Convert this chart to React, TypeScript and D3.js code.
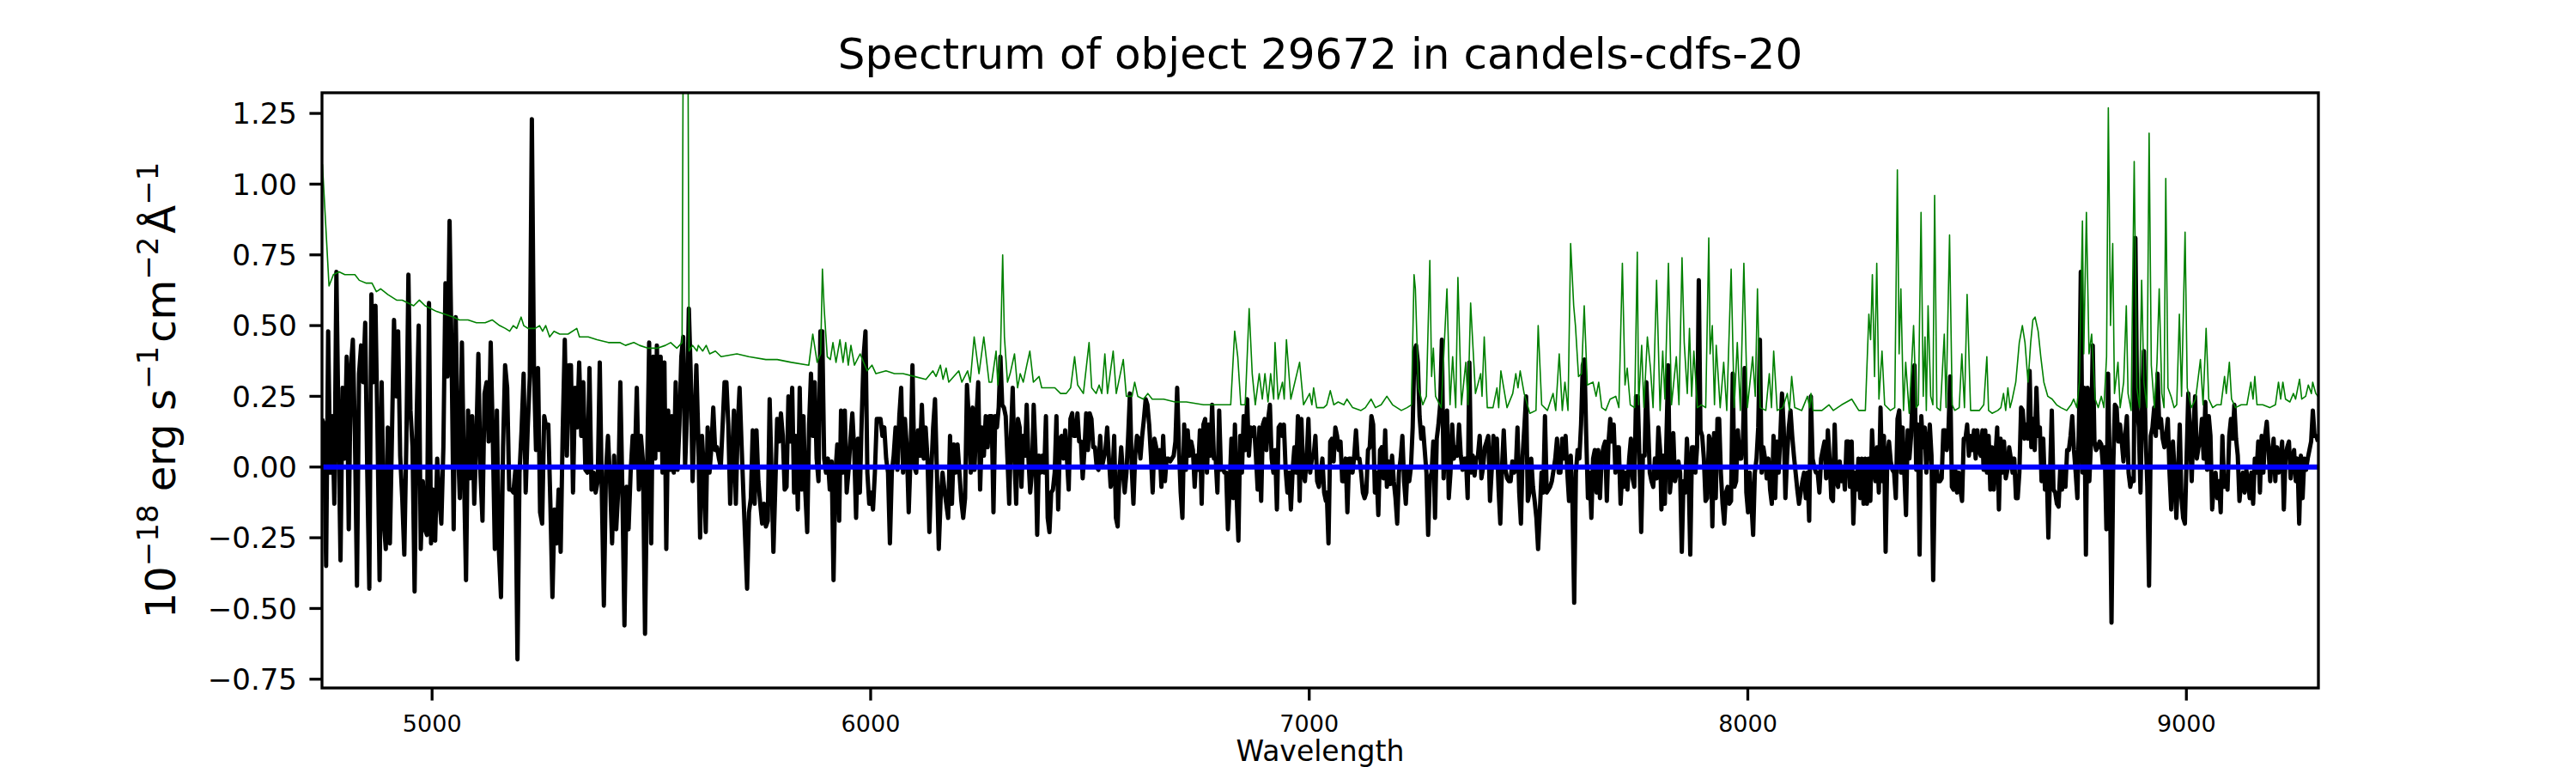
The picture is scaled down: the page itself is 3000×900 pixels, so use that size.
import React from "react";
import * as d3 from "d3";

// flux (black) in six stretches of wavelength
const segmentStart = [4749, 5512.6, 6276, 7040, 7803, 8537.5];
const segmentEnd = [5509, 6271, 7038, 7800, 8535, 9300];

const flux4750 = [0.17,0.15,-0.35,0.48,-0.02,0.18,-0.13,0.69,0.15,-0.33,0.28,0.03,0.39,-0.22,0.35,0.45,0.11,-0.42,0.33,0.43,0.30,0.51,-0.02,-0.43,0.61,0.30,0.57,0.11,-0.40,0.30,-0.19,-0.29,0.14,-0.27,0.11,0.52,0.25,0.48,0.04,-0.11,-0.31,0.09,0.68,0.20,0.07,-0.44,0.17,0.50,-0.29,-0.05,-0.22,-0.24,0.58,-0.27,-0.08,-0.26,0.03,-0.11,-0.20,0.07,0.65,0.32,0.87,0.39,-0.22,0.53,0.09,-0.11,0.44,-0.02,-0.40,0.20,-0.04,0.18,-0.13,0.09,0.40,-0.02,-0.19,0.26,0.30,0.09,0.44,0.11,-0.29,0.20,-0.30,-0.46,0.07,0.36,0.28,-0.08,-0.08,-0.09,-0.01,-0.68,-0.02,0.13,0.33,-0.09,0.14,0.32,1.23,0.36,0.06,0.35,-0.16,-0.20,0.18,0.14,0.15,-0.13,-0.46,-0.15,-0.27,-0.08,-0.30,0.13,0.45,0.04,0.36,0.36,-0.09,0.28,0.14,0.37,0.11,0.30,-0.01,-0.02,0.35,-0.08,-0.02,-0.09,-0.05,0.37,-0.09,-0.49,-0.02,0.11,-0.05,-0.27,0.04,-0.22,-0.08,0.30,-0.09,-0.56,-0.07,-0.22,-0.02,0.11,0.00,0.28,-0.08,0.11,0.02,-0.59,-0.02,0.44,-0.27,0.39,0.03];
const flux5510 = [0.43,0.06,0.39,-0.02,0.37,-0.29,0.20,-0.01,0.18,-0.02,0.30,-0.01,0.15,0.39,0.46,0.00,0.18,0.56,0.33,-0.05,0.15,0.36,0.11,-0.25,0.11,-0.02,-0.23,0.14,-0.02,0.07,0.21,0.06,0.07,0.03,0.00,0.15,0.30,0.30,0.15,-0.13,0.03,0.20,-0.13,0.14,0.28,0.09,-0.09,-0.26,-0.43,-0.16,-0.11,0.13,-0.13,0.13,-0.05,-0.13,-0.20,-0.13,-0.21,-0.19,0.24,-0.02,-0.30,-0.07,0.17,0.09,0.19,0.11,-0.08,-0.07,0.25,0.09,0.28,-0.09,0.11,-0.15,0.28,-0.08,0.18,-0.09,-0.23,0.15,0.33,0.11,0.30,0.03,-0.05,0.48,0.48,0.03,-0.02,0.03,-0.08,0.02,-0.40,-0.02,0.08,-0.19,0.20,-0.02,0.20,-0.09,-0.01,0.10,0.19,0.06,-0.18,0.10,-0.09,0.17,0.39,0.48,-0.02,-0.13,-0.09,-0.15,-0.02,0.17,0.17,0.17,0.11,0.14,0.03,-0.02,-0.27,-0.02,0.04,0.14,-0.01,0.18,0.28,-0.02,0.17,0.07,-0.16,0.04,0.36,0.00,-0.02,0.13,0.04,0.22,0.03,0.14,0.03,-0.23,-0.02,0.14,0.24,-0.02,-0.29,-0.11,-0.02,-0.08,-0.13,-0.18,0.11,-0.13,0.08,-0.02,0.08,-0.02,-0.12,-0.18,-0.11,0.29,0.17,-0.02,0.21,-0.01,0.17,0.30,-0.08,0.14,0.04,0.18,0.07,0.18];
const flux6280 = [0.18,-0.16,0.18,0.14,0.21,0.39,0.22,0.21,0.18,0.03,-0.13,0.11,0.28,0.03,-0.13,0.17,0.14,-0.07,0.11,0.04,0.22,0.03,-0.09,-0.02,0.22,0.06,-0.24,0.04,-0.02,0.04,-0.02,0.18,-0.18,-0.23,-0.09,-0.08,-0.02,0.18,-0.15,0.10,0.11,0.03,0.13,0.03,-0.08,0.17,0.19,0.11,0.11,0.19,0.09,0.09,-0.04,0.06,0.19,0.06,0.19,0.17,0.07,0.07,0.00,-0.01,0.11,0.00,0.03,0.06,0.14,0.03,-0.07,-0.04,0.11,-0.18,-0.21,-0.02,0.07,-0.02,-0.09,-0.02,0.11,0.26,0.00,-0.13,0.04,0.11,0.10,0.03,0.11,0.17,0.24,0.22,0.15,0.04,-0.09,0.10,0.07,0.00,0.06,-0.07,0.11,-0.05,0.03,0.03,0.02,0.03,0.04,0.09,0.28,0.07,-0.09,-0.18,0.15,-0.01,0.13,0.04,0.09,0.06,-0.07,0.04,-0.01,0.13,-0.13,0.15,0.17,-0.02,0.15,0.04,0.22,0.03,0.03,-0.09,0.20,-0.01,0.00,-0.02,-0.02,-0.22,-0.07,0.10,-0.11,0.15,-0.11,-0.26,0.11,-0.02,0.18,0.06,0.24,0.04,0.14,0.11,0.14,0.04,-0.08,0.14,-0.12,0.15,0.17,0.06,0.17,0.22,0.03,-0.02,0.06,-0.15,0.14,0.15,0.11,0.15,-0.01,-0.09,-0.02,-0.15,-0.01,0.07,-0.02,0.18,-0.12,0.17,-0.02,-0.05,0.03,0.17,-0.02,0.03,0.04,0.11,-0.05,-0.07,-0.02,0.03,-0.09,-0.12];
const flux7040 = [-0.09,-0.27,0.09,0.10,0.02,0.14,0.11,0.06,0.09,-0.05,-0.05,0.03,-0.16,0.03,0.03,-0.02,0.04,0.13,0.03,0.03,-0.02,-0.09,-0.11,-0.09,0.06,0.07,0.18,0.15,-0.09,-0.02,-0.17,0.06,0.07,-0.04,0.13,-0.07,0.02,-0.06,0.04,-0.05,-0.11,-0.20,-0.02,0.03,0.11,-0.05,-0.13,0.00,-0.05,0.00,0.14,0.41,0.43,0.37,0.18,0.10,0.14,0.06,-0.02,-0.24,-0.04,-0.02,0.09,-0.18,0.10,0.15,0.22,0.45,-0.04,0.11,0.20,-0.11,-0.02,0.15,0.03,0.07,0.04,0.15,0.04,-0.01,0.03,0.03,-0.11,0.37,-0.02,0.04,-0.03,0.03,0.04,0.11,-0.04,0.00,0.07,0.09,0.11,-0.12,-0.01,0.11,0.00,0.10,-0.08,-0.20,0.00,0.13,-0.01,-0.04,-0.05,-0.05,0.02,-0.02,-0.01,0.14,-0.09,-0.20,0.04,0.14,0.25,-0.12,-0.09,0.03,-0.07,-0.12,-0.18,-0.29,-0.16,-0.02,-0.09,0.18,-0.09,-0.08,-0.07,-0.05,-0.01,0.03,0.10,-0.02,-0.02,0.10,0.03,0.11,-0.02,-0.12,0.04,-0.13,-0.48,-0.02,0.06,0.03,0.15,0.36,0.38,0.11,-0.11,-0.02,-0.18,0.03,0.06,-0.09,0.06,-0.11,0.03,0.07,0.09,-0.12,0.09,0.17,0.09,0.15,-0.02,0.07,0.07,-0.13,-0.01,-0.07,-0.02,-0.08,0.03,0.10,-0.04,-0.07,0.25,0.25,0.03,-0.23,0.04,0.04,0.30,0.15,-0.02,-0.05,-0.07,0.03,-0.04,0.14,0.06];
const flux7800 = [-0.15,0.04,-0.13,0.11,0.36,-0.09,-0.02,0.12,-0.05,-0.02,0.02,-0.02,-0.30,-0.05,-0.09,0.10,-0.02,-0.31,0.07,0.07,-0.02,0.07,0.66,0.13,0.11,0.03,-0.12,-0.11,0.11,0.09,-0.21,0.12,-0.11,0.17,0.17,-0.02,-0.13,-0.20,-0.09,-0.07,-0.13,-0.12,0.33,-0.07,-0.05,0.13,0.03,0.03,0.10,0.35,-0.09,-0.16,-0.02,-0.13,-0.24,-0.02,0.03,0.14,0.45,-0.02,0.07,0.03,-0.04,0.03,-0.08,-0.13,0.11,-0.11,0.09,-0.02,0.11,0.26,0.14,-0.11,0.04,0.14,0.20,0.11,0.04,-0.02,-0.08,-0.13,-0.09,-0.05,-0.02,-0.11,-0.02,-0.19,0.25,0.03,0.00,-0.02,-0.02,-0.09,0.03,0.06,0.09,-0.04,0.13,0.03,-0.11,-0.12,0.15,-0.05,-0.07,0.02,-0.05,0.00,-0.08,0.09,0.09,-0.07,0.09,-0.20,-0.02,-0.08,0.03,-0.11,0.03,-0.13,0.03,-0.13,0.03,-0.12,0.13,0.00,-0.05,0.07,-0.09,0.21,-0.05,0.11,-0.30,0.04,0.09,0.02,-0.01,-0.02,-0.11,0.17,0.20,-0.02,0.14,-0.02,-0.17,0.13,0.03,0.11,0.29,0.36,-0.01,0.15,-0.31,0.18,0.07,0.14,-0.02,0.07,0.15,0.04,-0.40,-0.02,0.00,-0.05,-0.05,-0.04,0.13,0.13,0.06,0.13,0.32,-0.07,-0.08,-0.01,-0.09,-0.02,-0.08,-0.12,0.10,0.10,0.15,0.04,0.11,0.06,0.13,0.03,0.13,0.06,0.04,0.13];
const flux8540 = [-0.01,0.13,-0.02,0.11,-0.08,0.07,-0.08,0.04,0.14,-0.15,0.10,-0.02,0.09,-0.04,-0.01,0.07,0.03,-0.02,0.03,-0.11,-0.11,-0.02,0.21,0.20,0.10,0.15,0.10,0.34,0.07,0.17,0.06,0.28,0.11,0.14,-0.05,0.10,-0.08,0.00,-0.25,-0.02,0.20,-0.08,-0.09,-0.13,-0.14,0.00,-0.08,0.00,-0.07,0.06,0.06,0.11,0.18,0.06,-0.02,-0.11,0.18,0.69,-0.02,0.28,-0.31,0.28,-0.05,0.09,0.43,0.09,0.06,0.07,0.09,0.08,0.00,0.07,-0.22,0.33,-0.02,-0.55,0.00,0.22,0.21,0.09,0.15,0.09,0.02,0.11,0.18,-0.02,-0.07,-0.04,-0.05,0.81,0.22,0.14,-0.09,0.25,0.41,0.11,-0.07,-0.42,0.11,0.14,0.21,0.11,0.33,0.14,0.17,0.10,0.07,0.11,0.17,-0.02,-0.15,0.09,-0.02,-0.18,-0.02,0.15,-0.11,-0.18,-0.20,0.03,0.26,0.10,-0.05,0.14,0.25,0.03,0.07,0.09,0.17,0.03,0.23,-0.01,0.18,0.11,-0.15,-0.05,-0.02,-0.11,-0.05,-0.16,0.11,-0.07,-0.04,-0.08,0.11,0.17,0.10,0.22,0.10,0.04,-0.12,-0.05,-0.02,-0.09,-0.01,-0.05,-0.11,-0.02,-0.13,0.03,-0.02,0.09,-0.09,0.11,-0.02,0.11,0.16,0.07,-0.05,0.04,0.10,-0.05,0.07,-0.02,0.03,0.09,-0.15,0.04,0.07,0.09,-0.04,0.03,0.06,-0.05,0.03,-0.20,0.04,-0.11,0.03,-0.01,0.03,0.06,0.09,0.20,0.11,0.11,0.09];
const fluxSegments = [flux4750, flux5510, flux6280, flux7040, flux7800, flux8540];

// error spectrum (green) as [wavelength, value]
const error4750 = [[4750,1.07],[4765,0.64],[4775,0.68],[4788,0.69],[4801,0.68],[4814,0.68],[4824,0.68],[4834,0.66],[4850,0.65],[4863,0.65],[4873,0.62],[4883,0.63],[4899,0.61],[4919,0.59],[4932,0.59],[4945,0.58],[4958,0.57],[4971,0.59],[4984,0.57],[4997,0.56],[5010,0.55],[5030,0.54],[5049,0.53],[5062,0.52],[5082,0.52],[5101,0.51],[5121,0.51],[5137,0.52],[5154,0.50],[5167,0.49],[5177,0.48],[5185,0.50],[5193,0.49],[5203,0.53],[5209,0.50],[5219,0.49],[5235,0.49],[5245,0.50],[5252,0.48],[5259,0.50],[5268,0.46],[5278,0.48],[5291,0.47],[5310,0.47],[5330,0.49],[5336,0.46],[5356,0.46],[5376,0.45],[5402,0.44],[5428,0.44],[5441,0.43],[5460,0.44],[5473,0.43],[5493,0.42]];
const error5510 = [[5513,0.42],[5532,0.43],[5544,0.44],[5558,0.42],[5570,0.44],[5575,2.5],[5581,2.5],[5586,0.41],[5594,0.43],[5604,0.41],[5607,0.43],[5617,0.41],[5625,0.43],[5633,0.40],[5646,0.41],[5659,0.39],[5695,0.40],[5722,0.39],[5761,0.38],[5787,0.38],[5819,0.37],[5859,0.36],[5868,0.47],[5878,0.37],[5886,0.40],[5890,0.70],[5894,0.56],[5901,0.39],[5908,0.38],[5914,0.44],[5921,0.37],[5930,0.45],[5937,0.37],[5943,0.44],[5949,0.36],[5955,0.43],[5963,0.36],[5976,0.40],[5992,0.34],[6003,0.36],[6012,0.33],[6035,0.34],[6054,0.33],[6074,0.33],[6100,0.32],[6126,0.31],[6142,0.34],[6149,0.32],[6159,0.36],[6165,0.31],[6172,0.35],[6178,0.30],[6201,0.34],[6208,0.30],[6221,0.34],[6227,0.30],[6236,0.46],[6247,0.33],[6258,0.46],[6270,0.30]];
const error6280 = [[6276,0.30],[6286,0.41],[6290,0.29],[6296,0.40],[6301,0.75],[6305,0.46],[6312,0.30],[6318,0.33],[6328,0.40],[6335,0.28],[6341,0.33],[6348,0.30],[6356,0.36],[6363,0.41],[6371,0.30],[6384,0.32],[6390,0.28],[6407,0.28],[6420,0.28],[6433,0.26],[6446,0.26],[6456,0.28],[6465,0.39],[6472,0.29],[6485,0.26],[6498,0.44],[6504,0.28],[6514,0.26],[6521,0.29],[6527,0.26],[6534,0.40],[6540,0.26],[6553,0.41],[6560,0.26],[6576,0.38],[6583,0.25],[6596,0.25],[6602,0.30],[6609,0.25],[6622,0.24],[6632,0.26],[6642,0.24],[6668,0.24],[6694,0.23],[6720,0.23],[6759,0.22],[6798,0.22],[6821,0.22],[6830,0.48],[6837,0.39],[6844,0.22],[6854,0.22],[6863,0.56],[6870,0.33],[6877,0.22],[6886,0.33],[6893,0.24],[6899,0.33],[6906,0.23],[6912,0.33],[6919,0.24],[6922,0.44],[6929,0.24],[6939,0.30],[6943,0.24],[6948,0.45],[6958,0.24],[6978,0.37],[6987,0.22],[7001,0.26],[7006,0.22],[7010,0.28],[7017,0.21],[7033,0.21]];
const error7040 = [[7040,0.22],[7048,0.27],[7056,0.22],[7066,0.23],[7079,0.22],[7086,0.24],[7099,0.21],[7118,0.20],[7128,0.21],[7141,0.24],[7151,0.21],[7164,0.22],[7177,0.25],[7190,0.22],[7210,0.20],[7223,0.21],[7233,0.22],[7239,0.68],[7242,0.63],[7249,0.28],[7259,0.22],[7267,0.25],[7275,0.73],[7279,0.32],[7283,0.42],[7288,0.25],[7301,0.21],[7314,0.63],[7321,0.22],[7327,0.39],[7334,0.21],[7339,0.67],[7347,0.22],[7357,0.37],[7362,0.22],[7368,0.58],[7379,0.26],[7391,0.33],[7394,0.25],[7399,0.46],[7406,0.21],[7419,0.21],[7428,0.28],[7432,0.21],[7437,0.34],[7451,0.21],[7464,0.26],[7471,0.33],[7476,0.28],[7481,0.34],[7490,0.26],[7503,0.19],[7517,0.20],[7522,0.50],[7530,0.22],[7543,0.20],[7556,0.26],[7562,0.20],[7570,0.40],[7577,0.20],[7583,0.30],[7590,0.20],[7596,0.79],[7603,0.57],[7607,0.50],[7614,0.32],[7621,0.33],[7627,0.57],[7634,0.29],[7647,0.30],[7654,0.25],[7660,0.30],[7667,0.21],[7676,0.20],[7686,0.24],[7699,0.25],[7706,0.21],[7714,0.72],[7720,0.29],[7725,0.35],[7732,0.22],[7742,0.21],[7748,0.76],[7751,0.22],[7758,0.43],[7763,0.21],[7771,0.46],[7778,0.35],[7784,0.21],[7792,0.66],[7800,0.20]];
const error7800 = [[7806,0.41],[7811,0.24],[7819,0.72],[7826,0.22],[7837,0.39],[7843,0.22],[7850,0.74],[7855,0.44],[7862,0.26],[7867,0.49],[7872,0.25],[7877,0.41],[7885,0.21],[7894,0.22],[7904,0.21],[7911,0.81],[7914,0.40],[7919,0.50],[7924,0.22],[7928,0.43],[7937,0.21],[7945,0.37],[7952,0.20],[7962,0.70],[7969,0.21],[7976,0.44],[7983,0.20],[7991,0.72],[7999,0.21],[8011,0.39],[8017,0.25],[8022,0.63],[8028,0.21],[8041,0.20],[8049,0.33],[8054,0.21],[8059,0.41],[8067,0.20],[8080,0.21],[8090,0.26],[8095,0.20],[8100,0.32],[8107,0.21],[8123,0.20],[8136,0.25],[8141,0.21],[8144,0.26],[8149,0.20],[8169,0.20],[8185,0.22],[8195,0.20],[8214,0.22],[8237,0.24],[8253,0.20],[8268,0.20],[8276,0.54],[8280,0.45],[8284,0.68],[8289,0.32],[8294,0.72],[8299,0.24],[8306,0.41],[8312,0.22],[8325,0.20],[8335,0.21],[8341,1.05],[8345,0.40],[8349,0.63],[8355,0.20],[8360,0.37],[8368,0.19],[8378,0.50],[8384,0.21],[8389,0.22],[8395,0.90],[8400,0.25],[8404,0.46],[8407,0.20],[8411,0.57],[8417,0.25],[8422,0.22],[8426,0.96],[8431,0.21],[8439,0.20],[8448,0.47],[8452,0.21],[8460,0.82],[8466,0.22],[8472,0.20],[8482,0.21],[8488,0.40],[8494,0.21],[8500,0.61],[8508,0.20],[8518,0.20],[8528,0.20]];
const error8540 = [[8538,0.22],[8545,0.39],[8549,0.20],[8557,0.19],[8570,0.20],[8577,0.21],[8583,0.26],[8588,0.20],[8593,0.28],[8598,0.21],[8603,0.24],[8611,0.30],[8619,0.44],[8626,0.50],[8632,0.44],[8639,0.30],[8645,0.44],[8650,0.52],[8655,0.53],[8662,0.48],[8668,0.39],[8675,0.30],[8684,0.25],[8694,0.24],[8704,0.22],[8714,0.21],[8727,0.20],[8737,0.22],[8743,0.24],[8750,0.21],[8756,0.30],[8763,0.87],[8766,0.40],[8772,0.90],[8778,0.40],[8784,0.47],[8792,0.24],[8799,0.21],[8806,0.25],[8812,0.21],[8818,0.39],[8822,1.27],[8827,0.50],[8832,0.79],[8836,0.26],[8844,0.37],[8849,0.21],[8857,0.30],[8863,0.57],[8867,0.26],[8874,0.20],[8881,1.08],[8887,0.28],[8893,0.21],[8898,0.66],[8903,0.30],[8910,0.21],[8915,1.18],[8920,0.36],[8927,0.21],[8933,0.37],[8938,0.63],[8944,0.26],[8949,0.21],[8953,1.02],[8958,0.28],[8965,0.25],[8972,0.21],[8978,0.22],[8984,0.54],[8989,0.25],[8997,0.83],[9002,0.28],[9011,0.21],[9021,0.24],[9032,0.38],[9038,0.22],[9045,0.49],[9051,0.24],[9060,0.21],[9069,0.22],[9079,0.22],[9087,0.32],[9091,0.26],[9098,0.37],[9103,0.24],[9112,0.21],[9125,0.22],[9138,0.22],[9147,0.30],[9152,0.24],[9156,0.32],[9161,0.22],[9174,0.22],[9190,0.21],[9203,0.22],[9210,0.30],[9215,0.24],[9220,0.30],[9226,0.24],[9236,0.23],[9244,0.26],[9249,0.24],[9258,0.31],[9263,0.24],[9272,0.25],[9278,0.29],[9285,0.26],[9288,0.30],[9295,0.26],[9300,0.25]];
const errorSegments = [error4750, error5510, error6280, error7040, error7800, error8540];

const xTicks = [5000, 6000, 7000, 8000, 9000];
const yTicks = [-0.75, -0.5, -0.25, 0, 0.25, 0.5, 0.75, 1.0, 1.25];
const xDomain = [4749, 9301];
const yDomain = [-0.781, 1.323];

const title = "Spectrum of object 29672 in candels-cdfs-20";
const xLabel = "Wavelength";

const W = 3000;
const H = 900;
const margin = { top: 108, right: 300, bottom: 99, left: 375 };
const FONT = "DejaVu Sans, sans-serif";

export default function App() {
  const innerW = W - margin.left - margin.right;
  const innerH = H - margin.top - margin.bottom;

  const x = d3.scaleLinear().domain(xDomain).range([0, innerW]);
  const y = d3.scaleLinear().domain(yDomain).range([innerH, 0]);

  // spread each stretch's samples evenly over its wavelength span
  const spectrum: [number, number][] = fluxSegments.flatMap((vals, s) => {
    const a = segmentStart[s];
    const b = segmentEnd[s];
    return vals.map((v, i) => [a + (i * (b - a)) / (vals.length - 1), v] as [number, number]);
  });
  const errors = errorSegments.flat() as [number, number][];

  const line = d3
    .line<[number, number]>()
    .x((d) => x(d[0]))
    .y((d) => y(d[1]));

  const fmt = d3.format(".2f");

  return (
    <>
      <style>{`body{margin:0}`}</style>
      <svg width={W} height={H} style={{ display: "block", background: "#fff" }} fontFamily={FONT}>
        <defs>
          <clipPath id="plot-area">
            <rect x={0} y={0} width={innerW} height={innerH} />
          </clipPath>
        </defs>

        <text x={margin.left + innerW / 2} y={80} fontSize={50} textAnchor="middle" fill="#000">
          {title}
        </text>

        <g transform={`translate(${margin.left},${margin.top})`}>
          <g clipPath="url(#plot-area)">
            <path d={line(spectrum) ?? ""} fill="none" stroke="#000" strokeWidth={5} strokeLinejoin="round" />
            <path d={line(errors) ?? ""} fill="none" stroke="#008000" strokeWidth={1.6} strokeLinejoin="round" />
            <line x1={0} x2={innerW} y1={y(0)} y2={y(0)} stroke="#0000ff" strokeWidth={6} />
          </g>

          {/* frame */}
          <rect x={0} y={0} width={innerW} height={innerH} fill="none" stroke="#000" strokeWidth={3.3} />

          {/* y axis */}
          {yTicks.map((t) => (
            <g key={t} transform={`translate(0,${y(t)})`}>
              <line x1={-14.6} x2={0} stroke="#000" strokeWidth={3.3} />
              <text x={-29} dy="0.36em" fontSize={34} textAnchor="end" fill="#000">
                {fmt(t)}
              </text>
            </g>
          ))}

          {/* x axis */}
          {xTicks.map((t) => (
            <g key={t} transform={`translate(${x(t)},${innerH})`}>
              <line y1={0} y2={14.6} stroke="#000" strokeWidth={3.3} />
              <text y={51} fontSize={27} textAnchor="middle" fill="#000">
                {t}
              </text>
            </g>
          ))}
        </g>

        <text x={margin.left + innerW / 2} y={886} fontSize={33} textAnchor="middle" fill="#000">
          {xLabel}
        </text>

        <text
          transform={`translate(204,${margin.top + innerH / 2}) rotate(-90)`}
          fontSize={48}
          textAnchor="middle"
          fill="#000"
        >
          <tspan>10</tspan>
          <tspan fontSize={34} dy={-20}>−18</tspan>
          <tspan dy={20}> erg s</tspan>
          <tspan fontSize={34} dy={-20}>−1</tspan>
          <tspan dx={4} dy={20}>cm</tspan>
          <tspan fontSize={34} dy={-20}>−2</tspan>
          <tspan dx={4} dy={20}>Å</tspan>
          <tspan fontSize={34} dy={-20}>−1</tspan>
        </text>
      </svg>
    </>
  );
}
